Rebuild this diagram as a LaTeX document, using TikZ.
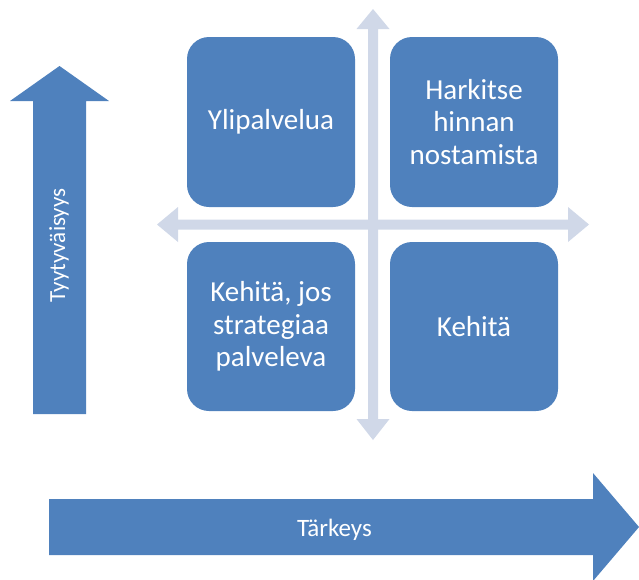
\documentclass[tikz,border=0pt]{standalone}
\usepackage{fontspec}
\setmainfont{Carlito}
\definecolor{boxblue}{HTML}{4F81BD}
\definecolor{axisgrey}{HTML}{D0D8E8}
\begin{document}
\begin{tikzpicture}[x=1pt,y=-1pt,
  quadrant/.style={fill=boxblue, rounded corners=22pt, text=white, align=center,
    minimum width=168pt, inner sep=0pt, font=\fontsize{29}{32.5}\selectfont},
  axisarrow/.style={fill=axisgrey, draw=none},
  bigarrow/.style={fill=boxblue, draw=none},
  arrowlabel/.style={text=white, inner sep=0pt, anchor=base}]
\clip (0,0) rectangle (639,579);

% cross of light axes (double-headed arrows)
\coordinate (origin) at (373,224.5);
\fill[axisarrow] (368,29) -- (356.5,29) -- (373,9) -- (389.5,29) -- (378,29)
  -- (378,419) -- (389.5,419) -- (373,440) -- (356.5,419) -- (368,419) -- cycle;
\fill[axisarrow] (178,219.5) -- (178,207) -- (157,224.5) -- (178,242) -- (178,229.5)
  -- (568,229.5) -- (568,242) -- (589,224.5) -- (568,207) -- (568,219.5) -- cycle;

% four quadrants
\node[quadrant, minimum height=170pt] (tl) at (271,122) {Ylipalvelua};
\node[quadrant, minimum height=170pt] (tr) at (474,122) {Harkitse\\hinnan\\nostamista};
\node[quadrant, minimum height=169pt] (bl) at (271,326.5) {Kehitä, jos\\strategiaa\\palveleva};
\node[quadrant, minimum height=169pt] (br) at (474,326.5) {Kehitä};

% vertical axis arrow: satisfaction
\fill[bigarrow] (33,414) -- (33,101) -- (10,101) -- (59.5,66) -- (109,101)
  -- (86,101) -- (86,414) -- cycle;
\node[arrowlabel, rotate=90, font=\fontsize{23}{27}\selectfont] (ylabel) at (65,245.5) {Tyytyväisyys};

% horizontal axis arrow: importance
\fill[bigarrow] (49,499) -- (593,499) -- (593,473) -- (639,527) -- (593,581)
  -- (593,555) -- (49,555) -- cycle;
\node[arrowlabel, font=\fontsize{25}{29}\selectfont] (xlabel) at (334.5,536) {Tärkeys};
\end{tikzpicture}
\end{document}
